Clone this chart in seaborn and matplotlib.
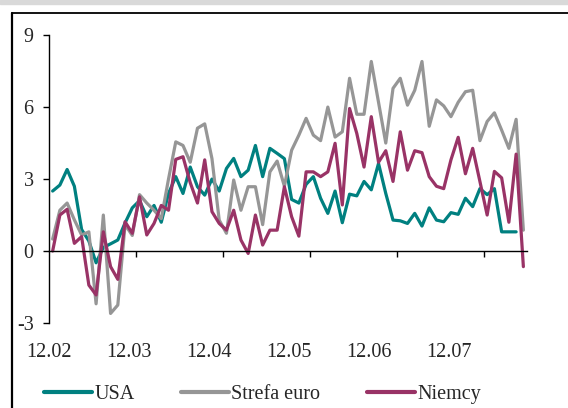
import numpy as np
import pandas as pd
import matplotlib
matplotlib.use('Agg')
import matplotlib.pyplot as plt
import seaborn as sns
from matplotlib.lines import Line2D
from matplotlib.patches import Rectangle

# monthly data, index 0 = 12.02
usa = [2.5, 2.75, 3.4, 2.7, 0.9, 0.42, -0.49, 0.15, 0.3, 0.46,
       1.17, 1.8, 2.1, 1.43, 1.9, 1.2, 2.4, 3.1, 2.4, 3.5,
       2.68, 2.33, 3.0, 2.5, 3.44, 3.86, 3.1, 3.37, 4.4, 3.1,
       4.28, 4.07, 3.85, 2.15, 2.0, 2.78, 3.1, 2.2, 1.57, 2.5,
       1.18, 2.37, 2.3, 2.9, 2.55, 3.65, 2.4, 1.29, 1.26, 1.15,
       1.57, 1.04, 1.8, 1.29, 1.22, 1.6, 1.53, 2.2, 1.85, 2.6,
       2.35, 2.6, 0.8, 0.8, 0.8, np.nan]
strefa_euro = [0.5, 1.7, 2.0, 1.3, 0.67, 0.8, -2.2, 1.5, -2.6, -2.25,
               1.1, 0.65, 2.35, 2.0, 1.7, 1.35, 3.0, 4.55, 4.4, 3.7,
               5.12, 5.3, 3.85, 1.29, 0.74, 2.96, 1.7, 2.68, 2.68, 1.1,
               3.3, 3.75, 2.7, 4.2, 4.83, 5.53, 4.83, 4.6, 6.0, 4.75,
               4.97, 7.2, 5.7, 5.7, 7.9, 6.2, 4.5, 6.78, 7.2, 6.08,
               6.7, 7.9, 5.2, 6.3, 6.05, 5.6, 6.2, 6.64, 6.7, 4.6,
               5.4, 5.76, 5.04, 4.28, 5.49, 0.87]
niemcy = [0.0, 1.5, 1.74, 0.32, 0.6, -1.42, -1.83, 0.8, -0.65, -1.18,
          1.22, 0.74, 2.26, 0.67, 1.15, 1.9, 1.7, 3.82, 3.93, 2.85,
          2.0, 3.8, 1.64, 1.15, 0.87, 1.7, 0.46, -0.1, 1.5, 0.25,
          0.87, 0.87, 2.68, 1.43, 0.62, 3.3, 3.3, 3.1, 3.3, 4.49,
          1.92, 5.94, 4.9, 3.5, 5.6, 3.7, 4.18, 2.9, 4.97, 3.37,
          4.18, 4.1, 3.1, 2.7, 2.6, 3.8, 4.74, 3.22, 4.28, 2.9,
          1.5, 3.32, 3.05, 1.2, 4.04, -0.65]
series_names = ['USA', 'Strefa euro', 'Niemcy']
colors = ['#008080', '#969696', '#993366']
x_labels = ['12.02', '12.03', '12.04', '12.05', '12.06', '12.07']
y_ticks = [-3, 0, 3, 6, 9]

months = np.arange(len(usa))
df = pd.DataFrame({'USA': usa, 'Strefa euro': strefa_euro, 'Niemcy': niemcy}, index=months)
long_df = df.reset_index().melt(id_vars='index', var_name='seria', value_name='wartosc')
long_df = long_df.rename(columns={'index': 'miesiac'})

sns.set_style('white')
plt.rcParams['font.family'] = ['Liberation Serif', 'DejaVu Serif']

fig = plt.figure(figsize=(5.68, 4.08), dpi=100)
ax = fig.add_axes([0.0863, 0.2083, 0.8415, 0.7057])

sns.lineplot(data=long_df, x='miesiac', y='wartosc', hue='seria',
             hue_order=series_names, palette=colors, linewidth=2.3,
             ax=ax, legend=False)

ax.set_xlim(-0.5, len(usa) - 0.5)
ax.set_ylim(-3, 9)
ax.set_xlabel('')
ax.set_ylabel('')

ax.spines['top'].set_visible(False)
ax.spines['right'].set_visible(False)
ax.spines['bottom'].set_position(('data', 0))
for s in ['left', 'bottom']:
    ax.spines[s].set_color('black')
    ax.spines[s].set_linewidth(1.0)

ax.set_yticks(y_ticks)
ax.set_yticklabels([str(v) for v in y_ticks])
ax.tick_params(axis='y', direction='out', length=4, width=1, color='black',
               labelsize=14.5, pad=7, left=True)

# tick marks between categories, every 12 months
ax.set_xticks(np.arange(11.5, len(usa), 12))
ax.set_xticklabels([])
ax.tick_params(axis='x', direction='out', length=4.5, width=1, color='black', bottom=True)

# year labels sit below the plot area
for k, lab in enumerate(x_labels):
    ax.text(-0.45 + 11.04 * k, -0.104, lab, transform=ax.get_xaxis_transform(),
            ha='center', va='center', fontsize=14.5)

handles = [Line2D([0], [0], color=c, lw=3) for c in colors]
fig.legend(handles, series_names, loc='center', bbox_to_anchor=(0.462, 0.032),
           ncol=3, frameon=False, fontsize=14.5, handlelength=2.4,
           handletextpad=0.1, columnspacing=2.3, borderaxespad=0)

# frame and clipped header band
fig.add_artist(Rectangle((0, 1 - 4 / 408), 1, 4 / 408, transform=fig.transFigure,
                         color='#d9d9d9', zorder=0))
fig.add_artist(Line2D([11.5 / 568, 1], [1 - 12.5 / 408, 1 - 12.5 / 408],
                      transform=fig.transFigure, color='black', lw=1.3))
fig.add_artist(Line2D([11.5 / 568, 11.5 / 568], [0, 1 - 12.5 / 408],
                      transform=fig.transFigure, color='black', lw=1.6))

fig.savefig('out.png', dpi=100)
